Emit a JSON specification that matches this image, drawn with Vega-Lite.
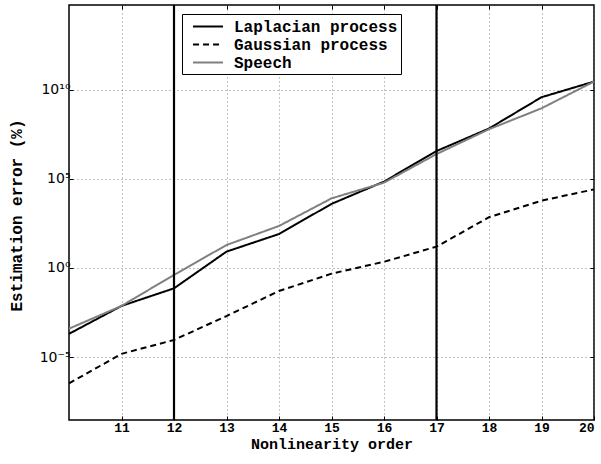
{
  "$schema": "https://vega.github.io/schema/vega-lite/v6.json",
  "width": 525,
  "height": 415,
  "autosize": "none",
  "padding": {"left": 69, "top": 5, "right": 7, "bottom": 44},
  "background": "white",
  "config": {
    "view": {"stroke": "black", "strokeWidth": 1.5},
    "axis": {
      "grid": true, "gridColor": "#666", "gridDash": [1, 3], "gridWidth": 0.8, "gridOpacity": 1,
      "domain": false, "tickColor": "black", "tickSize": -4, "tickWidth": 1,
      "labelColor": "black", "titleColor": "black"
    }
  },
  "resolve": {"axis": {"x": "independent", "y": "independent"}},
  "datasets": {
    "series": [
      {"order": 10, "error": 2.0e-4, "series": "Laplacian process"},
      {"order": 11, "error": 7.4e-3, "series": "Laplacian process"},
      {"order": 12, "error": 0.072, "series": "Laplacian process"},
      {"order": 13, "error": 8.3, "series": "Laplacian process"},
      {"order": 14, "error": 81, "series": "Laplacian process"},
      {"order": 15, "error": 3981, "series": "Laplacian process"},
      {"order": 16, "error": 7.1e4, "series": "Laplacian process"},
      {"order": 17, "error": 3.7e6, "series": "Laplacian process"},
      {"order": 18, "error": 6.8e7, "series": "Laplacian process"},
      {"order": 19, "error": 3.9e9, "series": "Laplacian process"},
      {"order": 20, "error": 2.95e10, "series": "Laplacian process"},
      {"order": 10, "error": 3.3e-7, "series": "Gaussian process"},
      {"order": 11, "error": 1.5e-5, "series": "Gaussian process"},
      {"order": 12, "error": 9.1e-5, "series": "Gaussian process"},
      {"order": 13, "error": 2.0e-3, "series": "Gaussian process"},
      {"order": 14, "error": 0.051, "series": "Gaussian process"},
      {"order": 15, "error": 0.48, "series": "Gaussian process"},
      {"order": 16, "error": 2.24, "series": "Gaussian process"},
      {"order": 17, "error": 15.8, "series": "Gaussian process"},
      {"order": 18, "error": 708, "series": "Gaussian process"},
      {"order": 19, "error": 6026, "series": "Gaussian process"},
      {"order": 20, "error": 2.6e4, "series": "Gaussian process"},
      {"order": 10, "error": 3.9e-4, "series": "Speech"},
      {"order": 11, "error": 7.4e-3, "series": "Speech"},
      {"order": 12, "error": 0.41, "series": "Speech"},
      {"order": 13, "error": 19.5, "series": "Speech"},
      {"order": 14, "error": 229, "series": "Speech"},
      {"order": 15, "error": 8130, "series": "Speech"},
      {"order": 16, "error": 6.2e4, "series": "Speech"},
      {"order": 17, "error": 2.5e6, "series": "Speech"},
      {"order": 18, "error": 6.2e7, "series": "Speech"},
      {"order": 19, "error": 9.3e8, "series": "Speech"},
      {"order": 20, "error": 2.95e10, "series": "Speech"}
    ],
    "vlines": [{"order": 12}, {"order": 17}]
  },
  "layer": [
    {
      "data": {"name": "series"},
      "mark": {"type": "line", "strokeWidth": 2},
      "encoding": {
        "x": {
          "field": "order", "type": "quantitative",
          "scale": {"domain": [10, 20], "nice": false, "zero": false},
          "axis": {
            "values": [11, 12, 13, 14, 15, 16, 17, 18, 19, 20],
            "format": "d",
            "title": "Nonlinearity order",
            "labelFont": "Liberation Mono", "labelFontWeight": "bold", "labelFontSize": 13,
            "labelPadding": 5,
            "titleFont": "Liberation Mono", "titleFontWeight": "bold", "titleFontSize": 15,
            "titleBaseline": "alphabetic", "titleY": 28
          }
        },
        "y": {
          "field": "error", "type": "quantitative",
          "scale": {"type": "log", "domain": [2.9e-9, 5.9e14], "nice": false},
          "axis": {
            "values": [1e-5, 1, 1e5, 1e10],
            "labelExpr": "datum.value == 1e10 ? '10¹⁰' : datum.value == 1e5 ? '10⁵' : datum.value == 1 ? '10⁰' : '10⁻⁵'",
            "title": "Estimation error (%)",
            "labelFont": "DejaVu Sans", "labelFontSize": 14, "labelPadding": 3,
            "titleFont": "Liberation Mono", "titleFontWeight": "bold", "titleFontSize": 16,
            "titleBaseline": "alphabetic", "titleX": -48, "titleY": 210
          }
        },
        "color": {
          "field": "series", "type": "nominal",
          "scale": {"domain": ["Laplacian process", "Gaussian process", "Speech"], "range": ["black", "black", "#808080"]},
          "legend": {
            "title": null, "orient": "none", "legendX": 113, "legendY": 9,
            "symbolType": "M-1.76,0H1.76", "symbolSize": 289, "symbolStrokeWidth": 2,
            "symbolOffset": 13.5, "labelOffset": 16.5, "labelLimit": 400,
            "labelFont": "Liberation Mono", "labelFontWeight": "bold", "labelFontSize": 16,
            "labelColor": "black", "rowPadding": -2.5,
            "strokeColor": "black", "padding": 3, "fillColor": "white"
          }
        },
        "strokeDash": {
          "field": "series", "type": "nominal",
          "scale": {"domain": ["Laplacian process", "Gaussian process", "Speech"], "range": [[1, 0], [6, 4], [1, 0]]},
          "legend": null
        }
      }
    },
    {
      "data": {"name": "vlines"},
      "mark": {"type": "rule", "color": "black", "strokeWidth": 2.2},
      "encoding": {
        "x": {
          "field": "order", "type": "quantitative",
          "axis": {"orient": "top", "values": [11, 12, 13, 14, 15, 16, 17, 18, 19], "labels": false, "grid": false, "title": null}
        }
      }
    },
    {
      "data": {"name": "series"},
      "mark": {"type": "point", "opacity": 0},
      "encoding": {
        "x": {"field": "order", "type": "quantitative", "axis": null},
        "y": {
          "field": "error", "type": "quantitative",
          "axis": {"orient": "right", "values": [1e-5, 1, 1e5, 1e10], "labels": false, "grid": false, "title": null}
        }
      }
    }
  ]
}
